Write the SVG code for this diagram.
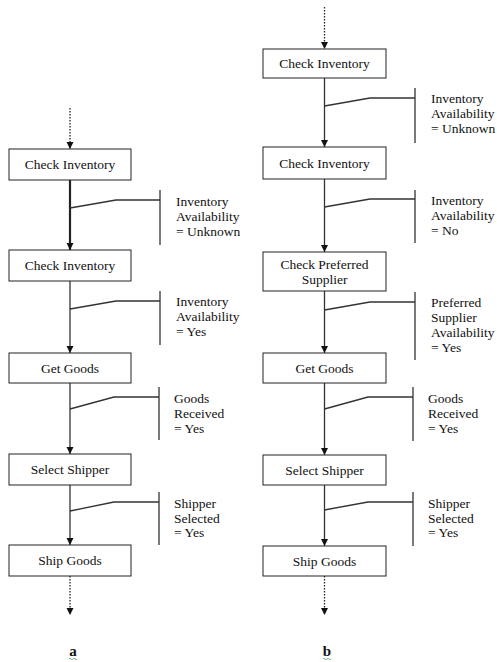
<svg xmlns="http://www.w3.org/2000/svg" width="497" height="662" viewBox="0 0 497 662" font-family="'Liberation Serif', 'DejaVu Serif', serif">
<defs>
<marker id="ah" markerUnits="userSpaceOnUse" markerWidth="8" markerHeight="8" refX="7" refY="4" orient="auto">
<path d="M0,0.5 L7,4 L0,7.5 z" fill="#111"/>
</marker>
<style>
.box{fill:#fff;stroke:#222;stroke-width:1}
.t{font-family:'Liberation Serif','DejaVu Serif',serif;font-size:13.5px;fill:#111}
.c{text-anchor:middle}
.ln{fill:none;stroke:#333;stroke-width:1.3}
.fl{fill:none;stroke:#333;stroke-width:1.3;marker-end:url(#ah)}
.thick{stroke-width:2.2;stroke:#222}
.dot{fill:none;stroke:#222;stroke-width:1.3;stroke-dasharray:1.5,1.5;marker-end:url(#ah)}
.lab{font-family:'Liberation Serif','DejaVu Serif',serif;font-size:15px;font-weight:bold;fill:#111;text-anchor:middle}
.sq{fill:none;stroke:#5a9a6a;stroke-width:0.8}
</style>
</defs>
<rect width="497" height="662" fill="#fff"/>

<g id="connectors">
<line class="dot" x1="70" y1="108" x2="70" y2="149"/>
<line class="fl thick" x1="70" y1="180" x2="70" y2="250"/>
<line class="fl" x1="70" y1="281" x2="70" y2="353"/>
<line class="fl" x1="70" y1="383" x2="70" y2="454"/>
<line class="fl" x1="70" y1="485" x2="70" y2="545"/>
<line class="dot" x1="70" y1="576" x2="70" y2="615"/>
<line class="dot" x1="324.5" y1="7" x2="324.5" y2="49"/>
<line class="fl" x1="324.5" y1="78" x2="324.5" y2="147"/>
<line class="fl" x1="324.5" y1="179" x2="324.5" y2="252"/>
<line class="fl" x1="324.5" y1="291" x2="324.5" y2="353"/>
<line class="fl" x1="324.5" y1="383" x2="324.5" y2="455"/>
<line class="fl" x1="324.5" y1="485" x2="324.5" y2="546"/>
<line class="dot" x1="324.5" y1="576" x2="324.5" y2="615"/>
</g>

<g id="guard-a1">
<polyline class="ln" points="70,208 116,200 160,200"/>
<line class="ln" x1="160" y1="190" x2="160" y2="245"/>
<text class="t" x="176" y="206">Inventory</text>
<text class="t" x="176" y="221">Availability</text>
<text class="t" x="176" y="236">= Unknown</text>
</g>
<g id="guard-a2">
<polyline class="ln" points="70,309 116,301 160,301"/>
<line class="ln" x1="160" y1="291" x2="160" y2="345"/>
<text class="t" x="176" y="306">Inventory</text>
<text class="t" x="176" y="321">Availability</text>
<text class="t" x="176" y="336">= Yes</text>
</g>
<g id="guard-a3">
<polyline class="ln" points="70,409 114,397 159,397"/>
<line class="ln" x1="159" y1="387" x2="159" y2="440"/>
<text class="t" x="174" y="403">Goods</text>
<text class="t" x="174" y="418">Received</text>
<text class="t" x="174" y="433">= Yes</text>
</g>
<g id="guard-a4">
<polyline class="ln" points="70,511 114,502 159,502"/>
<line class="ln" x1="159" y1="492" x2="159" y2="545"/>
<text class="t" x="174" y="508">Shipper</text>
<text class="t" x="174" y="523">Selected</text>
<text class="t" x="174" y="537">= Yes</text>
</g>

<g id="guard-b1">
<polyline class="ln" points="324.5,106 370,98 415,98"/>
<line class="ln" x1="415" y1="88" x2="415" y2="143"/>
<text class="t" x="431" y="103">Inventory</text>
<text class="t" x="431" y="118">Availability</text>
<text class="t" x="431" y="133">= Unknown</text>
</g>
<g id="guard-b2">
<polyline class="ln" points="324.5,207 370,199 415,199"/>
<line class="ln" x1="415" y1="190" x2="415" y2="243"/>
<text class="t" x="431" y="205">Inventory</text>
<text class="t" x="431" y="220">Availability</text>
<text class="t" x="431" y="235">= No</text>
</g>
<g id="guard-b3">
<polyline class="ln" points="324.5,310 370,302 415,302"/>
<line class="ln" x1="415" y1="292" x2="415" y2="360"/>
<text class="t" x="431" y="307">Preferred</text>
<text class="t" x="431" y="322">Supplier</text>
<text class="t" x="431" y="337">Availability</text>
<text class="t" x="431" y="352">= Yes</text>
</g>
<g id="guard-b4">
<polyline class="ln" points="324.5,409 368,397 413,397"/>
<line class="ln" x1="413" y1="387" x2="413" y2="441"/>
<text class="t" x="428" y="403">Goods</text>
<text class="t" x="428" y="418">Received</text>
<text class="t" x="428" y="433">= Yes</text>
</g>
<g id="guard-b5">
<polyline class="ln" points="324.5,510 368,502 413,502"/>
<line class="ln" x1="413" y1="492" x2="413" y2="546"/>
<text class="t" x="428" y="508">Shipper</text>
<text class="t" x="428" y="523">Selected</text>
<text class="t" x="428" y="537">= Yes</text>
</g>

<g id="a-check-inventory-1">
<rect class="box" x="9" y="149" width="122" height="31"/>
<text class="t c" x="70" y="169">Check Inventory</text>
</g>
<g id="a-check-inventory-2">
<rect class="box" x="9" y="250" width="122" height="31"/>
<text class="t c" x="70" y="270">Check Inventory</text>
</g>
<g id="a-get-goods">
<rect class="box" x="9" y="353" width="122" height="30"/>
<text class="t c" x="70" y="372.5">Get Goods</text>
</g>
<g id="a-select-shipper">
<rect class="box" x="9" y="454" width="122" height="31"/>
<text class="t c" x="70" y="474">Select Shipper</text>
</g>
<g id="a-ship-goods">
<rect class="box" x="9" y="545" width="122" height="31"/>
<text class="t c" x="70" y="565">Ship Goods</text>
</g>

<g id="b-check-inventory-1">
<rect class="box" x="263" y="49" width="123" height="29"/>
<text class="t c" x="324.5" y="68">Check Inventory</text>
</g>
<g id="b-check-inventory-2">
<rect class="box" x="263" y="147" width="123" height="32"/>
<text class="t c" x="324.5" y="167.5">Check Inventory</text>
</g>
<g id="b-check-preferred-supplier">
<rect class="box" x="263" y="252" width="123" height="39"/>
<text class="t c" x="324.5" y="269">Check Preferred</text>
<text class="t c" x="324.5" y="284">Supplier</text>
</g>
<g id="b-get-goods">
<rect class="box" x="263" y="353" width="123" height="30"/>
<text class="t c" x="324.5" y="372.5">Get Goods</text>
</g>
<g id="b-select-shipper">
<rect class="box" x="263" y="455" width="123" height="30"/>
<text class="t c" x="324.5" y="474.5">Select Shipper</text>
</g>
<g id="b-ship-goods">
<rect class="box" x="263" y="546" width="123" height="30"/>
<text class="t c" x="324.5" y="565.5">Ship Goods</text>
</g>

<g id="label-a">
<text class="lab" x="73" y="656">a</text>
<path class="sq" d="M69,659 q1,-1.5 2,0 t2,0 t2,0 t2,0"/>
</g>
<g id="label-b">
<text class="lab" x="327" y="656">b</text>
<path class="sq" d="M323,659 q1,-1.5 2,0 t2,0 t2,0 t2,0"/>
</g>
</svg>
